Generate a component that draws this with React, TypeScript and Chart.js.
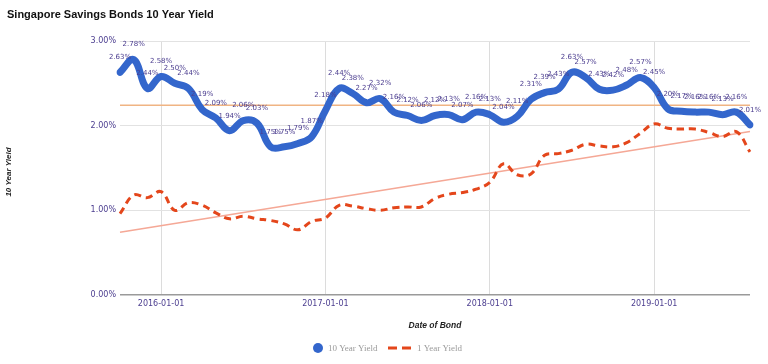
import React, { useEffect, useRef } from "react";
import { Chart, registerables } from "chart.js";

Chart.register(...registerables);

const chartTitle = "Singapore Savings Bonds 10 Year Yield";
const yAxisTitle = "10 Year Yield";
const xAxisTitle = "Date of Bond";
const seriesNames = ["10 Year Yield", "1 Year Yield"];

const months = [
  "2015-10-01", "2015-11-01", "2015-12-01",
  "2016-01-01", "2016-02-01", "2016-03-01", "2016-04-01", "2016-05-01", "2016-06-01",
  "2016-07-01", "2016-08-01", "2016-09-01", "2016-10-01", "2016-11-01", "2016-12-01",
  "2017-01-01", "2017-02-01", "2017-03-01", "2017-04-01", "2017-05-01", "2017-06-01",
  "2017-07-01", "2017-08-01", "2017-09-01", "2017-10-01", "2017-11-01", "2017-12-01",
  "2018-01-01", "2018-02-01", "2018-03-01", "2018-04-01", "2018-05-01", "2018-06-01",
  "2018-07-01", "2018-08-01", "2018-09-01", "2018-10-01", "2018-11-01", "2018-12-01",
  "2019-01-01", "2019-02-01", "2019-03-01", "2019-04-01", "2019-05-01", "2019-06-01",
  "2019-07-01", "2019-08-01",
];

const xTickLabels = ["2016-01-01", "2017-01-01", "2018-01-01", "2019-01-01"];
const yTickValues = [0, 1, 2, 3];

const yield10 = [
  2.63, 2.78, 2.44,
  2.58, 2.50, 2.44, 2.19, 2.09, 1.94, 2.06, 2.03, 1.75, 1.75, 1.79, 1.87,
  2.18, 2.44, 2.38, 2.27, 2.32, 2.16, 2.12, 2.06, 2.12, 2.13, 2.07, 2.16,
  2.13, 2.04, 2.11, 2.31, 2.39, 2.43, 2.63, 2.57, 2.43, 2.42, 2.48, 2.57,
  2.45, 2.20, 2.17, 2.16, 2.16, 2.13, 2.16, 2.01,
];

const yield1 = [
  0.96, 1.18, 1.15,
  1.22, 1.00, 1.09, 1.06, 0.97, 0.90, 0.93, 0.90, 0.88, 0.84, 0.77, 0.87,
  0.91, 1.06, 1.05, 1.02, 1.00, 1.03, 1.04, 1.04, 1.14, 1.19, 1.21, 1.25,
  1.33, 1.55, 1.42, 1.43, 1.65, 1.67, 1.71, 1.78, 1.76, 1.75, 1.80, 1.91,
  2.02, 1.97, 1.96, 1.96, 1.92, 1.87, 1.93, 1.69,
];

// trend lines: [start, end]
const trend10 = [2.24, 2.24];
const trend1 = [0.74, 1.93];

const BLUE = "#3366cc";
const RED = "#e4461b";
const PURPLE = "#4b3d8f";

function endpoints(pair: number[]) {
  return months.map((_, i) => (i === 0 ? pair[0] : i === months.length - 1 ? pair[1] : null));
}

const decorPlugin = {
  id: "decor",
  afterDatasetsDraw(chart: any) {
    const ctx = chart.ctx;
    const meta = chart.getDatasetMeta(0);
    ctx.save();
    ctx.font = '7px "DejaVu Sans"';
    ctx.fillStyle = PURPLE;
    ctx.textAlign = "center";
    ctx.textBaseline = "middle";
    meta.data.forEach((pt: any, i: number) => {
      ctx.fillText(yield10[i].toFixed(2) + "%", pt.x, pt.y - 15);
    });
    ctx.restore();
  },
  afterDraw(chart: any) {
    const ctx = chart.ctx;
    const area = chart.chartArea;
    ctx.save();
    // chart title
    ctx.font = 'bold 11px "Liberation Sans"';
    ctx.fillStyle = "#111";
    ctx.textAlign = "left";
    ctx.textBaseline = "middle";
    ctx.fillText(chartTitle, 7, 15);

    // y axis title
    ctx.save();
    ctx.translate(9, (area.top + area.bottom) / 2 + 4);
    ctx.rotate(-Math.PI / 2);
    ctx.font = 'italic bold 8px "Liberation Sans"';
    ctx.textAlign = "center";
    ctx.fillStyle = "#222";
    ctx.fillText(yAxisTitle, 0, 0);
    ctx.restore();

    // x axis title
    ctx.font = 'italic bold 8.5px "Liberation Sans"';
    ctx.textAlign = "center";
    ctx.fillStyle = "#222";
    ctx.fillText(xAxisTitle, (area.left + area.right) / 2, 326);

    // legend
    const ly = 348;
    ctx.fillStyle = BLUE;
    ctx.beginPath();
    ctx.arc(318, ly, 5, 0, Math.PI * 2);
    ctx.fill();
    ctx.font = '9px "Liberation Serif"';
    ctx.fillStyle = "#9a9a9a";
    ctx.textAlign = "left";
    ctx.fillText(seriesNames[0], 328, ly + 0.5);
    ctx.strokeStyle = RED;
    ctx.lineWidth = 3;
    ctx.beginPath();
    ctx.moveTo(388, ly);
    ctx.lineTo(397, ly);
    ctx.moveTo(402, ly);
    ctx.lineTo(411, ly);
    ctx.stroke();
    ctx.fillText(seriesNames[1], 417, ly + 0.5);
    ctx.restore();
  },
};

export default function App() {
  const ref = useRef<HTMLCanvasElement>(null);

  useEffect(() => {
    if (!ref.current) return;
    const chart = new Chart(ref.current, {
      type: "line",
      data: {
        labels: months,
        datasets: [
          {
            label: seriesNames[0],
            data: yield10,
            borderColor: BLUE,
            backgroundColor: BLUE,
            borderWidth: 7,
            tension: 0.4,
            pointRadius: 0,
            borderCapStyle: "round",
            borderJoinStyle: "round",
            fill: false,
          },
          {
            label: seriesNames[1],
            data: yield1,
            borderColor: RED,
            backgroundColor: RED,
            borderWidth: 3,
            borderDash: [7, 5],
            tension: 0.4,
            pointRadius: 0,
            fill: false,
          },
          {
            label: "trend10",
            data: endpoints(trend10),
            borderColor: "#f0b483",
            borderWidth: 1.5,
            pointRadius: 0,
            spanGaps: true,
            tension: 0,
            fill: false,
          },
          {
            label: "trend1",
            data: endpoints(trend1),
            borderColor: "#f5a896",
            borderWidth: 1.5,
            pointRadius: 0,
            spanGaps: true,
            tension: 0,
            fill: false,
          },
        ],
      },
      options: {
        animation: false,
        responsive: false,
        events: [],
        layout: { padding: { top: 41, right: 18, left: 0, bottom: 0 } },
        plugins: {
          legend: { display: false },
          title: { display: false },
          tooltip: { enabled: false },
        },
        scales: {
          x: {
            type: "category",
            offset: false,
            border: { display: false },
            grid: {
              drawTicks: false,
              color: (c: any) =>
                c.tick && xTickLabels.includes(months[c.index]) ? "#dcdcdc" : "rgba(0,0,0,0)",
              lineWidth: 1,
            },
            ticks: {
              autoSkip: false,
              maxRotation: 0,
              minRotation: 0,
              padding: 4,
              color: PURPLE,
              font: { family: "DejaVu Sans", size: 8 },
              callback: (_v: any, i: number) =>
                xTickLabels.includes(months[i]) ? months[i] : "",
            },
            afterFit: (s: any) => {
              s.height = 69;
            },
          },
          y: {
            min: yTickValues[0],
            max: yTickValues[yTickValues.length - 1],
            border: { display: false },
            grid: {
              drawTicks: false,
              color: (c: any) => (c.tick && c.tick.value === 0 ? "#9a9a9a" : "#e2e2e2"),
              lineWidth: (c: any) => (c.tick && c.tick.value === 0 ? 1.5 : 1),
            },
            afterBuildTicks: (s: any) => {
              s.ticks = yTickValues.map((v) => ({ value: v }));
            },
            ticks: {
              padding: 4,
              color: PURPLE,
              font: { family: "DejaVu Sans", size: 8 },
              callback: (v: any) => Number(v).toFixed(2) + "%",
            },
            afterFit: (s: any) => {
              s.width = 120;
            },
          },
        },
      } as any,
      plugins: [decorPlugin],
    });
    return () => chart.destroy();
  }, []);

  return (
    <div style={{ position: "absolute", left: 0, top: 0, width: 768, height: 364, background: "#fff" }}>
      <canvas ref={ref} width={768} height={364} style={{ display: "block" }} />
    </div>
  );
}
